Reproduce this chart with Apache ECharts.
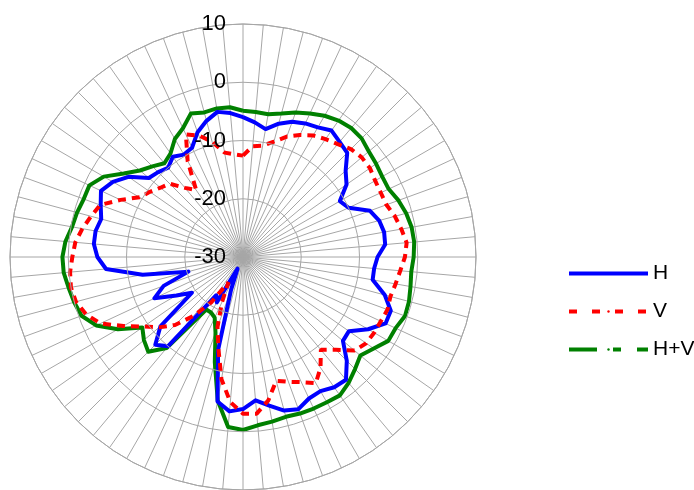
<!DOCTYPE html>
<html>
<head>
<meta charset="utf-8">
<script src="https://cdn.jsdelivr.net/npm/echarts@6/dist/echarts.min.js"></script>
<style>
    html, body { margin: 0; padding: 0; background: #fff; }
    #chart { width: 694px; height: 490px; }
</style>
</head>
<body>
<div id="chart"></div>
<script>
// angles clockwise from top, degrees
const angles = [0, 5, 10, 15, 20, 25, 30, 35, 40, 45, 50, 55, 60, 65, 70, 75, 80, 85,
    90, 95, 100, 105, 110, 115, 120, 125, 130, 135, 140, 145, 150, 155, 160, 165, 170, 175,
    180, 185, 190, 195, 200, 205, 210, 215, 220, 225, 230, 235, 240, 245, 250, 255, 260, 265,
    270, 275, 280, 285, 290, 295, 300, 305, 310, 315, 320, 325, 330, 335, 340, 345, 350, 355]
const radialTicks = [-30, -20, -10, 0, 10]

const hValues = [-6.0, -6.8, -7.7, -6.3, -5.3, -4.7, -4.3, -3.5, -4.2, -4.7, -7.0, -8.3,
    -10.8, -10.0, -6.8, -5.8, -5.4, -5.5, -6.9, -7.4, -7.4, -4.8, -3.0, -3.0,
    -5.2, -7.8, -7.6, -4.8, -2.5, -2.7, -3.4, -3.2, -2.2, -2.7, -4.1, -5.3,
    -3.9, -3.4, -4.8, -13.5, -24.0, -27.8, -21.0, -22.0, -10.0, -8.7, -11.5, -19.3,
    -16.8, -13.2, -15.5, -20.3, -12.5, -6.4, -5.0, -4.3, -4.3, -4.8, -4.0, -3.1,
    -4.2, -6.0, -8.9, -9.4, -10.0, -9.0, -9.7, -9.3, -7.2, -5.8, -4.7, -5.2]

const vValues = [-12.6, -10.9, -10.6, -9.5, -8.0, -6.9, -5.9, -5.3, -4.7, -3.8, -3.4, -3.4,
    -3.8, -3.9, -3.8, -3.0, -2.4, -1.8, -2.2, -2.9, -3.4, -3.8, -3.6, -3.9,
    -4.0, -4.2, -5.0, -7.5, -9.2, -6.8, -5.0, -6.3, -7.2, -8.0, -5.0, -3.0,
    -3.1, -5.0, -8.7, -13.7, -17.2, -21.5, -25.0, -20.5, -16.8, -13.5, -11.2, -9.2,
    -6.3, -3.0, -1.3, -0.3, 0.0, -0.2, -0.7, -1.1, -2.0, -3.0, -3.9, -6.8,
    -9.5, -10.5, -11.5, -12.2, -14.5, -16.0, -11.0, -6.8, -7.8, -9.5, -11.8, -12.3]

const hvValues = [-4.9, -5.0, -5.1, -4.5, -3.6, -2.8, -2.0, -1.4, -1.1, -1.2, -1.8, -2.1,
    -2.4, -2.4, -1.6, -1.0, -0.6, -0.5, -0.7, -1.0, -0.8, -0.5, -0.4, -1.1,
    -1.2, -2.6, -3.7, -2.8, -1.8, -1.0, -1.2, -1.3, -1.4, -1.6, -1.3, -1.0,
    -0.3, -0.7, -5.0, -11.3, -16.2, -18.5, -19.0, -19.0, -9.6, -7.0, -7.8, -8.9,
    -5.2, -2.2, -0.5, 0.0, 0.4, 0.9, 1.0, 0.6, -0.2, -0.5, -0.9, -0.9,
    -2.4, -5.0, -6.9, -8.0, -9.0, -8.3, -6.6, -5.6, -3.8, -4.3, -4.1, -4.2]

// polar line data is [radius, angle]; repeat the first point to close the loop
function toPolar(values) {
    const pts = values.map((v, i) => [v, angles[i]])
    pts.push([values[0], 360])
    return pts
}

const gridColor = '#a6a6a6'
const font = 'Liberation Sans, Arial, sans-serif'

const chart = echarts.init(document.getElementById('chart'))
chart.setOption({
    animation: false,
    polar: {
        center: [243, 257],
        radius: 233,
    },
    angleAxis: {
        type: 'value',
        min: 0,
        max: 360,
        interval: 5,
        startAngle: 90,
        clockwise: true,
        axisLine: { show: true, lineStyle: { color: gridColor, width: 1 } },
        axisTick: { show: false },
        axisLabel: { show: false },
        splitLine: { show: true, lineStyle: { color: gridColor, width: 1 } },
    },
    radiusAxis: {
        type: 'value',
        min: radialTicks[0],
        max: radialTicks[radialTicks.length - 1],
        interval: 10,
        axisLine: { show: false },
        axisTick: { show: false },
        axisLabel: {
            margin: 17,
            fontSize: 22,
            fontFamily: font,
            color: '#000',
        },
        splitLine: { show: true, lineStyle: { color: gridColor, width: 1 } },
        z: 10,
    },
    legend: {
        orient: 'vertical',
        left: 567,
        top: 263,
        padding: 0,
        itemWidth: 79,
        // tiny height keeps the legend's marker hidden inside the line
        itemHeight: 3,
        itemGap: 17,
        textStyle: { fontSize: 21, fontFamily: font, color: '#000' },
        lineStyle: { width: 4 },
        data: [
            { name: 'H' },
            { name: 'V', lineStyle: { type: [8, 15], width: 4 } },
            { name: 'H+V', lineStyle: { type: [28, 16, 8, 16], width: 4 } },
        ],
    },
    series: [
        {
            name: 'H',
            type: 'line',
            coordinateSystem: 'polar',
            symbol: 'none',
            z: 3,
            data: toPolar(hValues),
            itemStyle: { color: '#0000ff' },
            lineStyle: { color: '#0000ff', width: 4, join: 'round' },
        },
        {
            name: 'V',
            type: 'line',
            coordinateSystem: 'polar',
            symbol: 'none',
            z: 4,
            data: toPolar(vValues),
            itemStyle: { color: '#ff0000' },
            lineStyle: { color: '#ff0000', width: 4, type: [8, 6], join: 'bevel' },
        },
        {
            name: 'H+V',
            type: 'line',
            coordinateSystem: 'polar',
            symbol: 'none',
            z: 2,
            data: toPolar(hvValues),
            itemStyle: { color: '#008000' },
            lineStyle: { color: '#008000', width: 4, join: 'round' },
        },
    ],
})
</script>
</body>
</html>
